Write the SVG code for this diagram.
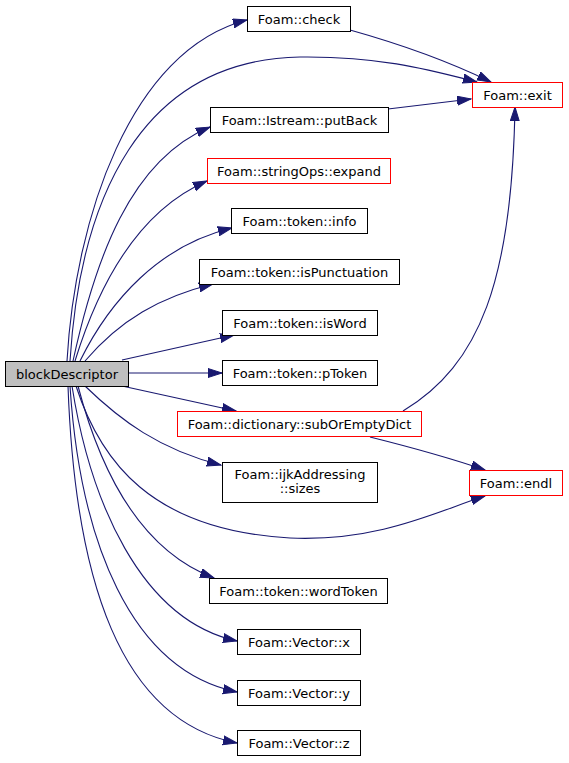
<svg xmlns="http://www.w3.org/2000/svg" width="569" height="763" viewBox="0 0 569 763">
<defs>
<style>
.n rect{fill:#fff;stroke:#000;stroke-width:1}
.n.red rect{stroke:#ff0000}
.n.root rect{fill:#bfbfbf}
text{font-family:"DejaVu Sans","Liberation Sans",sans-serif;font-size:13px;fill:#000;text-anchor:middle}
.e path{fill:none;stroke:#191970;stroke-width:1.1;marker-end:url(#ah)}
</style>
<marker id="ah" markerUnits="userSpaceOnUse" markerWidth="15" markerHeight="11" refX="14" refY="5" orient="auto" viewBox="0 0 15 11">
<path d="M0,0.5 L14,5 L0,9.5 z" fill="#191970" stroke="#191970" stroke-width="1"/>
</marker>
</defs>
<rect width="569" height="763" fill="#fff"/>
<g id="edges" class="e">
<path d="M67,361 C75,220 130,50 247,20"/>
<path d="M70,361 C80,200 140,60 300,57 C380,56 430,70 477,82"/>
<path d="M350,30 C400,44 450,62 491,82"/>
<path d="M388,109 L471,99"/>
<path d="M73,361 C95,260 130,160 210,127"/>
<path d="M75,361 C100,280 140,210 207,181"/>
<path d="M80,361 C110,300 160,245 232,228"/>
<path d="M85,361 C120,320 160,297 213,284"/>
<path d="M122,360 L234,335"/>
<path d="M128,373 L222,373"/>
<path d="M122,386 L236,411"/>
<path d="M85,386 C120,420 160,450 221,465"/>
<path d="M76,386 C100,460 150,530 290,538 C380,542 440,510 485,496"/>
<path d="M370,437 C410,447 450,458 485,470"/>
<path d="M403,411 C480,365 512,280 515,107"/>
<path d="M78,386 C100,470 140,550 214,578"/>
<path d="M72,386 C90,500 140,620 237,641"/>
<path d="M70,386 C80,540 130,670 237,692"/>
<path d="M68,386 C75,580 120,720 237,743"/>
</g>
<g id="blockDescriptor" class="n root"><rect x="5.5" y="361.5" width="123" height="25"/><text x="67" y="378.5">blockDescriptor</text></g>
<g id="check" class="n"><rect x="247.5" y="6.5" width="103" height="25"/><text x="299" y="23.5">Foam::check</text></g>
<g id="exit" class="n red"><rect x="472.5" y="82.5" width="90" height="25"/><text x="517.5" y="99.5">Foam::exit</text></g>
<g id="putBack" class="n"><rect x="210.5" y="107.5" width="178" height="25"/><text x="299.5" y="124.5">Foam::Istream::putBack</text></g>
<g id="expand" class="n red"><rect x="207.5" y="158.5" width="183" height="25"/><text x="299" y="175.5">Foam::stringOps::expand</text></g>
<g id="info" class="n"><rect x="231.5" y="208.5" width="136" height="25"/><text x="299.5" y="225.5">Foam::token::info</text></g>
<g id="isPunctuation" class="n"><rect x="199.5" y="259.5" width="200" height="25"/><text x="299.5" y="276.5">Foam::token::isPunctuation</text></g>
<g id="isWord" class="n"><rect x="222.5" y="310.5" width="155" height="25"/><text x="300" y="327.5">Foam::token::isWord</text></g>
<g id="pToken" class="n"><rect x="222.5" y="360.5" width="155" height="25"/><text x="300" y="377.5">Foam::token::pToken</text></g>
<g id="subOrEmptyDict" class="n red"><rect x="177.5" y="411.5" width="244" height="25"/><text x="299.5" y="428.5">Foam::dictionary::subOrEmptyDict</text></g>
<g id="sizes" class="n"><rect x="222.5" y="462.5" width="155" height="40"/><text x="300" y="478.5">Foam::ijkAddressing</text><text x="300" y="493">::sizes</text></g>
<g id="endl" class="n red"><rect x="469.5" y="470.5" width="93" height="25"/><text x="516" y="487.5">Foam::endl</text></g>
<g id="wordToken" class="n"><rect x="209.5" y="578.5" width="178" height="25"/><text x="298.5" y="595.5">Foam::token::wordToken</text></g>
<g id="vx" class="n"><rect x="237.5" y="629.5" width="123" height="25"/><text x="299" y="646.5">Foam::Vector::x</text></g>
<g id="vy" class="n"><rect x="237.5" y="680.5" width="123" height="25"/><text x="299" y="697.5">Foam::Vector::y</text></g>
<g id="vz" class="n"><rect x="237.5" y="730.5" width="123" height="25"/><text x="299" y="747.5">Foam::Vector::z</text></g>
</svg>
